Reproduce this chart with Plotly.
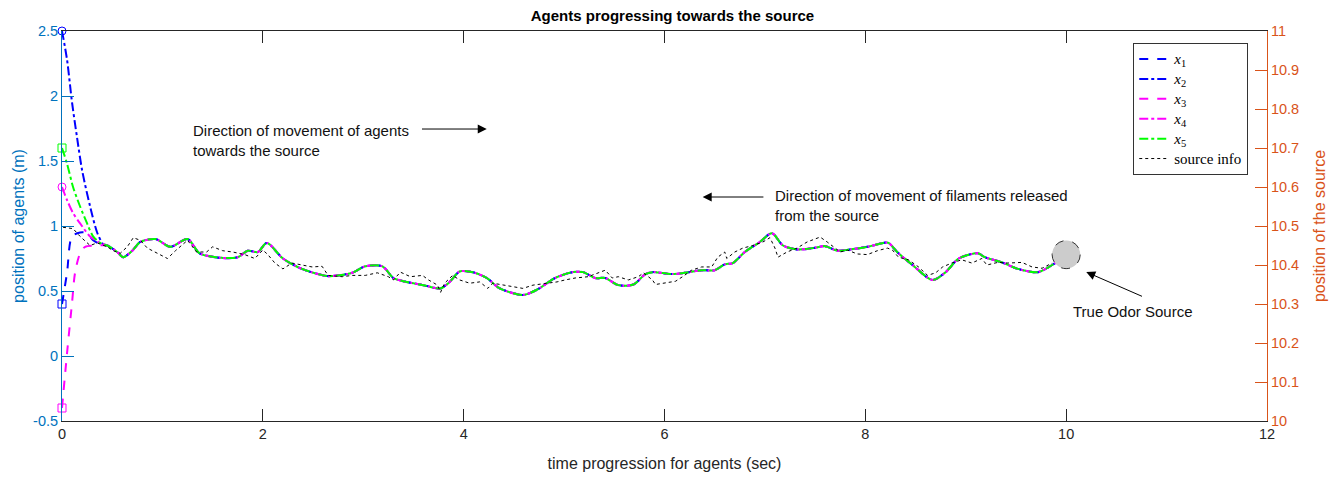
import plotly.graph_objects as go

# ---------------- data ----------------
# common consensus trajectory (after agents converge)
common_t = [0.45, 0.48, 0.55, 0.61, 0.70, 0.78, 0.93, 1.08, 1.25, 1.37, 1.59, 1.75, 1.85, 1.95,
            2.04, 2.20, 2.39, 2.64, 2.75, 2.89, 3.02, 3.19, 3.30, 3.40, 3.60, 3.77, 3.86, 3.96,
            4.09, 4.23, 4.36, 4.59, 4.73, 4.91, 5.08, 5.19, 5.31, 5.41, 5.54, 5.69, 5.81, 5.88,
            6.08, 6.24, 6.37, 6.50, 6.60, 6.68, 6.80, 6.95, 7.07, 7.18, 7.32, 7.48, 7.60, 7.72,
            7.85, 8.02, 8.18, 8.23, 8.33, 8.47, 8.67, 8.80, 8.93, 9.12, 9.19, 9.36, 9.52, 9.72,
            9.86, 9.90]
common_v = [0.85, 0.838, 0.80, 0.76, 0.81, 0.877, 0.90, 0.84, 0.90, 0.79, 0.755, 0.76, 0.81, 0.80,
            0.87, 0.75, 0.67, 0.615, 0.62, 0.64, 0.69, 0.69, 0.60, 0.575, 0.545, 0.52, 0.57, 0.65,
            0.645, 0.60, 0.52, 0.47, 0.51, 0.60, 0.645, 0.645, 0.60, 0.60, 0.545, 0.55, 0.63, 0.645,
            0.63, 0.645, 0.66, 0.66, 0.705, 0.715, 0.80, 0.877, 0.945, 0.85, 0.82, 0.83, 0.845, 0.81,
            0.82, 0.84, 0.87, 0.87, 0.79, 0.70, 0.585, 0.645, 0.75, 0.79, 0.76, 0.72, 0.67, 0.645,
            0.70, 0.72]

# initial transients of each agent
x1_t0 = [0.0, 0.05, 0.10, 0.18, 0.25, 0.31, 0.40]
x1_v0 = [0.40, 0.64, 0.92, 0.95, 0.945, 0.89, 0.855]
x2_t0 = [0.0, 0.05, 0.10, 0.15, 0.20, 0.28, 0.35, 0.41]
x2_v0 = [2.50, 2.28, 1.95, 1.68, 1.43, 1.15, 0.95, 0.86]
x3_t0 = [0.0, 0.05, 0.10, 0.13, 0.18, 0.23, 0.35]
x3_v0 = [-0.40, 0.02, 0.41, 0.64, 0.79, 0.84, 0.85]
x4_t0 = [0.0, 0.05, 0.11, 0.18, 0.28, 0.38]
x4_v0 = [1.30, 1.20, 1.10, 1.02, 0.92, 0.87]
x5_t0 = [0.0, 0.05, 0.11, 0.18, 0.25, 0.31, 0.38]
x5_v0 = [1.60, 1.48, 1.30, 1.15, 1.02, 0.92, 0.87]

# source info (noisy filament signal)
src_t = [0.01, 0.11, 0.18, 0.28, 0.35, 0.45, 0.51, 0.58, 0.65, 0.71, 0.78, 0.85, 0.95, 1.05, 1.13,
         1.25, 1.34, 1.44, 1.50, 1.60, 1.70, 1.82, 1.92, 2.00, 2.05, 2.12, 2.20, 2.29, 2.39, 2.49,
         2.59, 2.65, 2.79, 2.89, 3.02, 3.14, 3.25, 3.30, 3.37, 3.47, 3.59, 3.65, 3.74, 3.77, 3.81,
         3.89, 3.96, 4.06, 4.16, 4.24, 4.29, 4.41, 4.49, 4.59, 4.69, 4.83, 4.93, 5.01, 5.11, 5.24,
         5.34, 5.41, 5.48, 5.54, 5.64, 5.74, 5.79, 5.88, 5.91, 6.01, 6.11, 6.18, 6.27, 6.37, 6.47,
         6.53, 6.60, 6.62, 6.70, 6.78, 6.88, 6.98, 7.05, 7.10, 7.13, 7.22, 7.32, 7.42, 7.55, 7.62,
         7.70, 7.75, 7.82, 7.92, 8.02, 8.12, 8.22, 8.27, 8.33, 8.43, 8.53, 8.62, 8.70, 8.77, 8.86,
         8.96, 9.06, 9.16, 9.21, 9.32, 9.42, 9.56, 9.66, 9.76, 9.86]
src_v = [0.99, 0.98, 0.92, 0.85, 0.87, 0.84, 0.81, 0.79, 0.84, 0.91, 0.89, 0.83, 0.79, 0.75, 0.81,
         0.89, 0.80, 0.80, 0.84, 0.81, 0.80, 0.78, 0.75, 0.815, 0.78, 0.715, 0.67, 0.715, 0.70, 0.685,
         0.69, 0.62, 0.61, 0.62, 0.62, 0.64, 0.61, 0.585, 0.645, 0.61, 0.62, 0.585, 0.545, 0.49, 0.56,
         0.62, 0.585, 0.56, 0.57, 0.52, 0.56, 0.545, 0.53, 0.52, 0.545, 0.56, 0.57, 0.585, 0.60, 0.61,
         0.64, 0.66, 0.60, 0.61, 0.585, 0.61, 0.64, 0.585, 0.55, 0.56, 0.575, 0.61, 0.66, 0.685, 0.685,
         0.76, 0.80, 0.75, 0.80, 0.83, 0.85, 0.877, 0.91, 0.83, 0.76, 0.80, 0.83, 0.877, 0.915, 0.877,
         0.83, 0.80, 0.815, 0.785, 0.78, 0.81, 0.83, 0.815, 0.76, 0.74, 0.685, 0.62, 0.64, 0.685, 0.715,
         0.74, 0.715, 0.75, 0.70, 0.72, 0.715, 0.72, 0.685, 0.675, 0.715]

# true odor source position
source_t = 10.0
source_v = 0.78
source_r_t = 0.14
source_r_v = 0.108

x_ticks = [0, 2, 4, 6, 8, 10, 12]
yl_ticks = [-0.5, 0, 0.5, 1, 1.5, 2, 2.5]
yl_labels = ["-0.5", "0", "0.5", "1", "1.5", "2", "2.5"]
yr_ticks = [10.0, 10.1, 10.2, 10.3, 10.4, 10.5, 10.6, 10.7, 10.8, 10.9, 11.0]
yr_labels = ["10", "10.1", "10.2", "10.3", "10.4", "10.5", "10.6", "10.7", "10.8", "10.9", "11"]

BLUE_AX = "#0072BD"
ORANGE_AX = "#D95319"

def leg(txt):
    return '<span style="font-size:15px">' + txt + '</span>'

agents = [
    (leg("<i>x</i><sub>1</sub>"), x1_t0, x1_v0, "#0000FF", "dash", "square-open"),
    (leg("<i>x</i><sub>2</sub>"), x2_t0, x2_v0, "#0000FF", "dashdot", "circle-open"),
    (leg("<i>x</i><sub>3</sub>"), x3_t0, x3_v0, "#FF00FF", "dash", "square-open"),
    (leg("<i>x</i><sub>4</sub>"), x4_t0, x4_v0, "#FF00FF", "dashdot", "circle-open"),
    (leg("<i>x</i><sub>5</sub>"), x5_t0, x5_v0, "#00FF00", "dashdot", "square-open"),
]

fig = go.Figure()

for name, t0, v0, col, dash, sym in agents:
    fig.add_trace(go.Scatter(
        x=t0 + common_t, y=v0 + common_v, mode="lines", name=name,
        line=dict(color=col, width=2, dash=dash, shape="spline", smoothing=0.8),
        hoverinfo="skip"))

fig.add_trace(go.Scatter(
    x=src_t, y=src_v, mode="lines", name=leg("source info"),
    line=dict(color="black", width=1, dash="dot"), hoverinfo="skip"))

for name, t0, v0, col, dash, sym in agents:
    fig.add_trace(go.Scatter(
        x=[t0[0]], y=[v0[0]], mode="markers", showlegend=False,
        marker=dict(symbol=sym, size=8, color=col, line=dict(width=1, color=col)),
        hoverinfo="skip", cliponaxis=False))

# dummy trace to activate right axis
fig.add_trace(go.Scatter(x=[source_t], y=[10.5], yaxis="y2", mode="markers",
                         marker=dict(opacity=0), showlegend=False, hoverinfo="skip"))

# true odor source circle
fig.add_shape(type="circle", xref="x", yref="y",
              x0=source_t - source_r_t, x1=source_t + source_r_t,
              y0=source_v - source_r_v, y1=source_v + source_r_v,
              fillcolor="#CCCCCC", line=dict(color="#333333", width=1, dash="dash"))

ann_font = dict(family="Liberation Sans, Arial", size=15, color="#111111")
arrow_kw = dict(xref="x", yref="y", axref="x", ayref="y", text="", showarrow=True,
                arrowhead=2, arrowsize=1.8, arrowwidth=1, arrowcolor="black")
fig.add_annotation(x=1.285, y=1.66, xref="x", yref="y", text="Direction of movement of agents<br>towards the source",
                   showarrow=False, xanchor="left", align="left", font=ann_font)
fig.add_annotation(x=4.23, y=1.746, ax=3.57, ay=1.746, **arrow_kw)
fig.add_annotation(x=7.08, y=1.16, xref="x", yref="y", text="Direction of movement of filaments released<br>from the source",
                   showarrow=False, xanchor="left", align="left", font=ann_font)
fig.add_annotation(x=6.38, y=1.223, ax=7.0, ay=1.223, **arrow_kw)
fig.add_annotation(x=10.67, y=0.346, xref="x", yref="y", text="True Odor Source",
                   showarrow=False, xanchor="center", font=ann_font)
fig.add_annotation(x=10.2, y=0.646, ax=10.77, ay=0.454, **arrow_kw)

fig.update_layout(
    width=1341, height=477,
    margin=dict(l=54, r=82, t=23, b=64, autoexpand=False),
    paper_bgcolor="white", plot_bgcolor="white",
    font=dict(family="Liberation Sans, Arial", size=14),
    title=dict(text="<b>Agents progressing towards the source</b>", x=0.4955, xanchor="center",
               yref="container", y=0.983, yanchor="middle", automargin=False,
               font=dict(size=15, color="black")),
    showlegend=True,
    legend=dict(x=0.889, y=0.969, xanchor="left", yanchor="top",
                bordercolor="#333333", borderwidth=1, bgcolor="white",
                font=dict(family="Liberation Serif, Times New Roman", size=13, color="black"),
                tracegroupgap=0, itemwidth=30),
    xaxis=dict(range=[0, 12], tickvals=x_ticks, ticks="inside", ticklen=12, tickcolor="#262626",
               showline=True, linecolor="#262626", linewidth=1, mirror="ticks",
               showgrid=False, zeroline=False, automargin=False,
               tickfont=dict(color="#262626", size=14.5),
               title=dict(text="time progression for agents (sec)", font=dict(color="#262626", size=16), standoff=16)),
    yaxis=dict(range=[-0.5, 2.5], tickvals=yl_ticks, ticktext=yl_labels, ticks="inside", ticklen=12,
               tickcolor=BLUE_AX, showline=True, linecolor=BLUE_AX, linewidth=1, automargin=False,
               showgrid=False, zeroline=False, tickfont=dict(color=BLUE_AX, size=14.5),
               title=dict(text="position of agents (m)", font=dict(color=BLUE_AX, size=16), standoff=4)),
    yaxis2=dict(range=[10, 11], tickvals=yr_ticks, ticktext=yr_labels, overlaying="y", side="right",
                ticks="inside", ticklen=12, tickcolor=ORANGE_AX, showline=True, linecolor=ORANGE_AX,
                linewidth=1, showgrid=False, zeroline=False, automargin=False,
                tickfont=dict(color=ORANGE_AX, size=14.5),
                title=dict(text="position of the source", font=dict(color=ORANGE_AX, size=16), standoff=15)),
)

fig.write_html("out.html")
